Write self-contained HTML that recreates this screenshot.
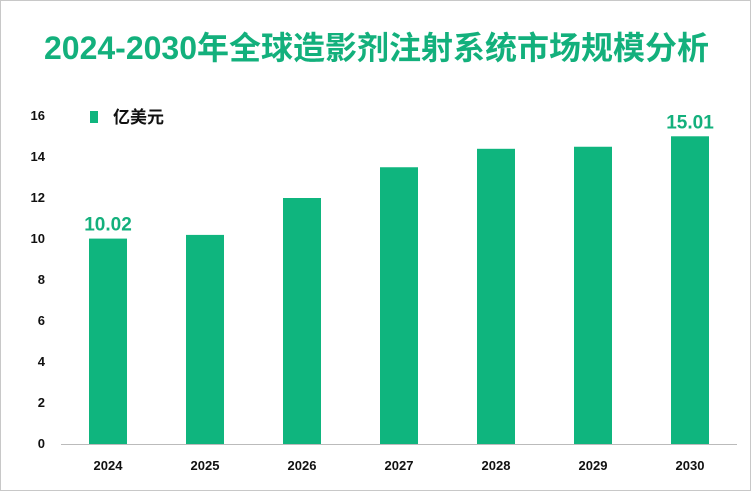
<!DOCTYPE html>
<html><head><meta charset="utf-8">
<style>
html,body{margin:0;padding:0;background:#fff;}
#wrap{position:relative;width:749px;height:489px;border:1px solid #c8c8c8;overflow:hidden;font-family:"Liberation Sans","Noto Sans CJK SC",sans-serif;}
#title{position:absolute;left:0;width:751px;top:27px;text-align:center;font-size:32px;line-height:40px;font-weight:bold;color:#13b07c;letter-spacing:0px;}
</style></head>
<body>
<div id="wrap">
<div id="title">2024-2030年全球造影剂注射系统市场规模分析</div>
<svg id="chart" width="751" height="491" style="position:absolute;left:0;top:0"></svg>
</div>
<script>
const categories=["2024","2025","2026","2027","2028","2029","2030"];
const values=[10.02,10.2,12.0,13.5,14.4,14.5,15.01];
const labels=["10.02","","","","","","15.01"];
const yTicks=[0,2,4,6,8,10,12,14,16];
const svg=document.getElementById('chart');
const NS="http://www.w3.org/2000/svg";
const y0=443,yTop=115,yMax=16;
const y=v=>y0-(v/yMax)*(y0-yTop);
const x=i=>107+i*97;
function mk(t,a){const e=document.createElementNS(NS,t);for(const k in a)e.setAttribute(k,a[k]);svg.appendChild(e);return e;}
yTicks.forEach(t=>{
 const e=mk('text',{x:44,y:y(t)+4,'text-anchor':'end','font-size':13,'font-weight':'bold',fill:'#111','font-family':'Liberation Sans'});
 e.textContent=t;
 
 
});
const ax=mk('line',{x1:60,x2:736,y1:y0+0.5,y2:y0+0.5,stroke:'#bbb','stroke-width':1});


categories.forEach((c,i)=>{
 const r=mk('rect',{x:x(i)-19,y:y(values[i]),width:38,height:y0-y(values[i]),fill:'#0fb57e'});
 
 
 const t=mk('text',{x:x(i),y:469,'text-anchor':'middle','font-size':13,'font-weight':'bold',fill:'#111','font-family':'Liberation Sans'});
 t.textContent=c;
 
 
 if(labels[i]){
  const l=mk('text',{x:x(i),y:y(values[i])-8,'text-anchor':'middle','font-size':19,'font-weight':'bold',fill:'#13b07c','font-family':'Liberation Sans'});
  l.textContent=labels[i];
  
  
 }
});
const lm=mk('rect',{x:89,y:110,width:8,height:12,fill:'#0fb57e'});


const lt=mk('text',{x:112,y:122,'font-size':17,'font-weight':'bold',fill:'#111','font-family':'Liberation Sans, Noto Sans CJK SC, sans-serif'});
lt.textContent='亿美元';


</script>
</body></html>
